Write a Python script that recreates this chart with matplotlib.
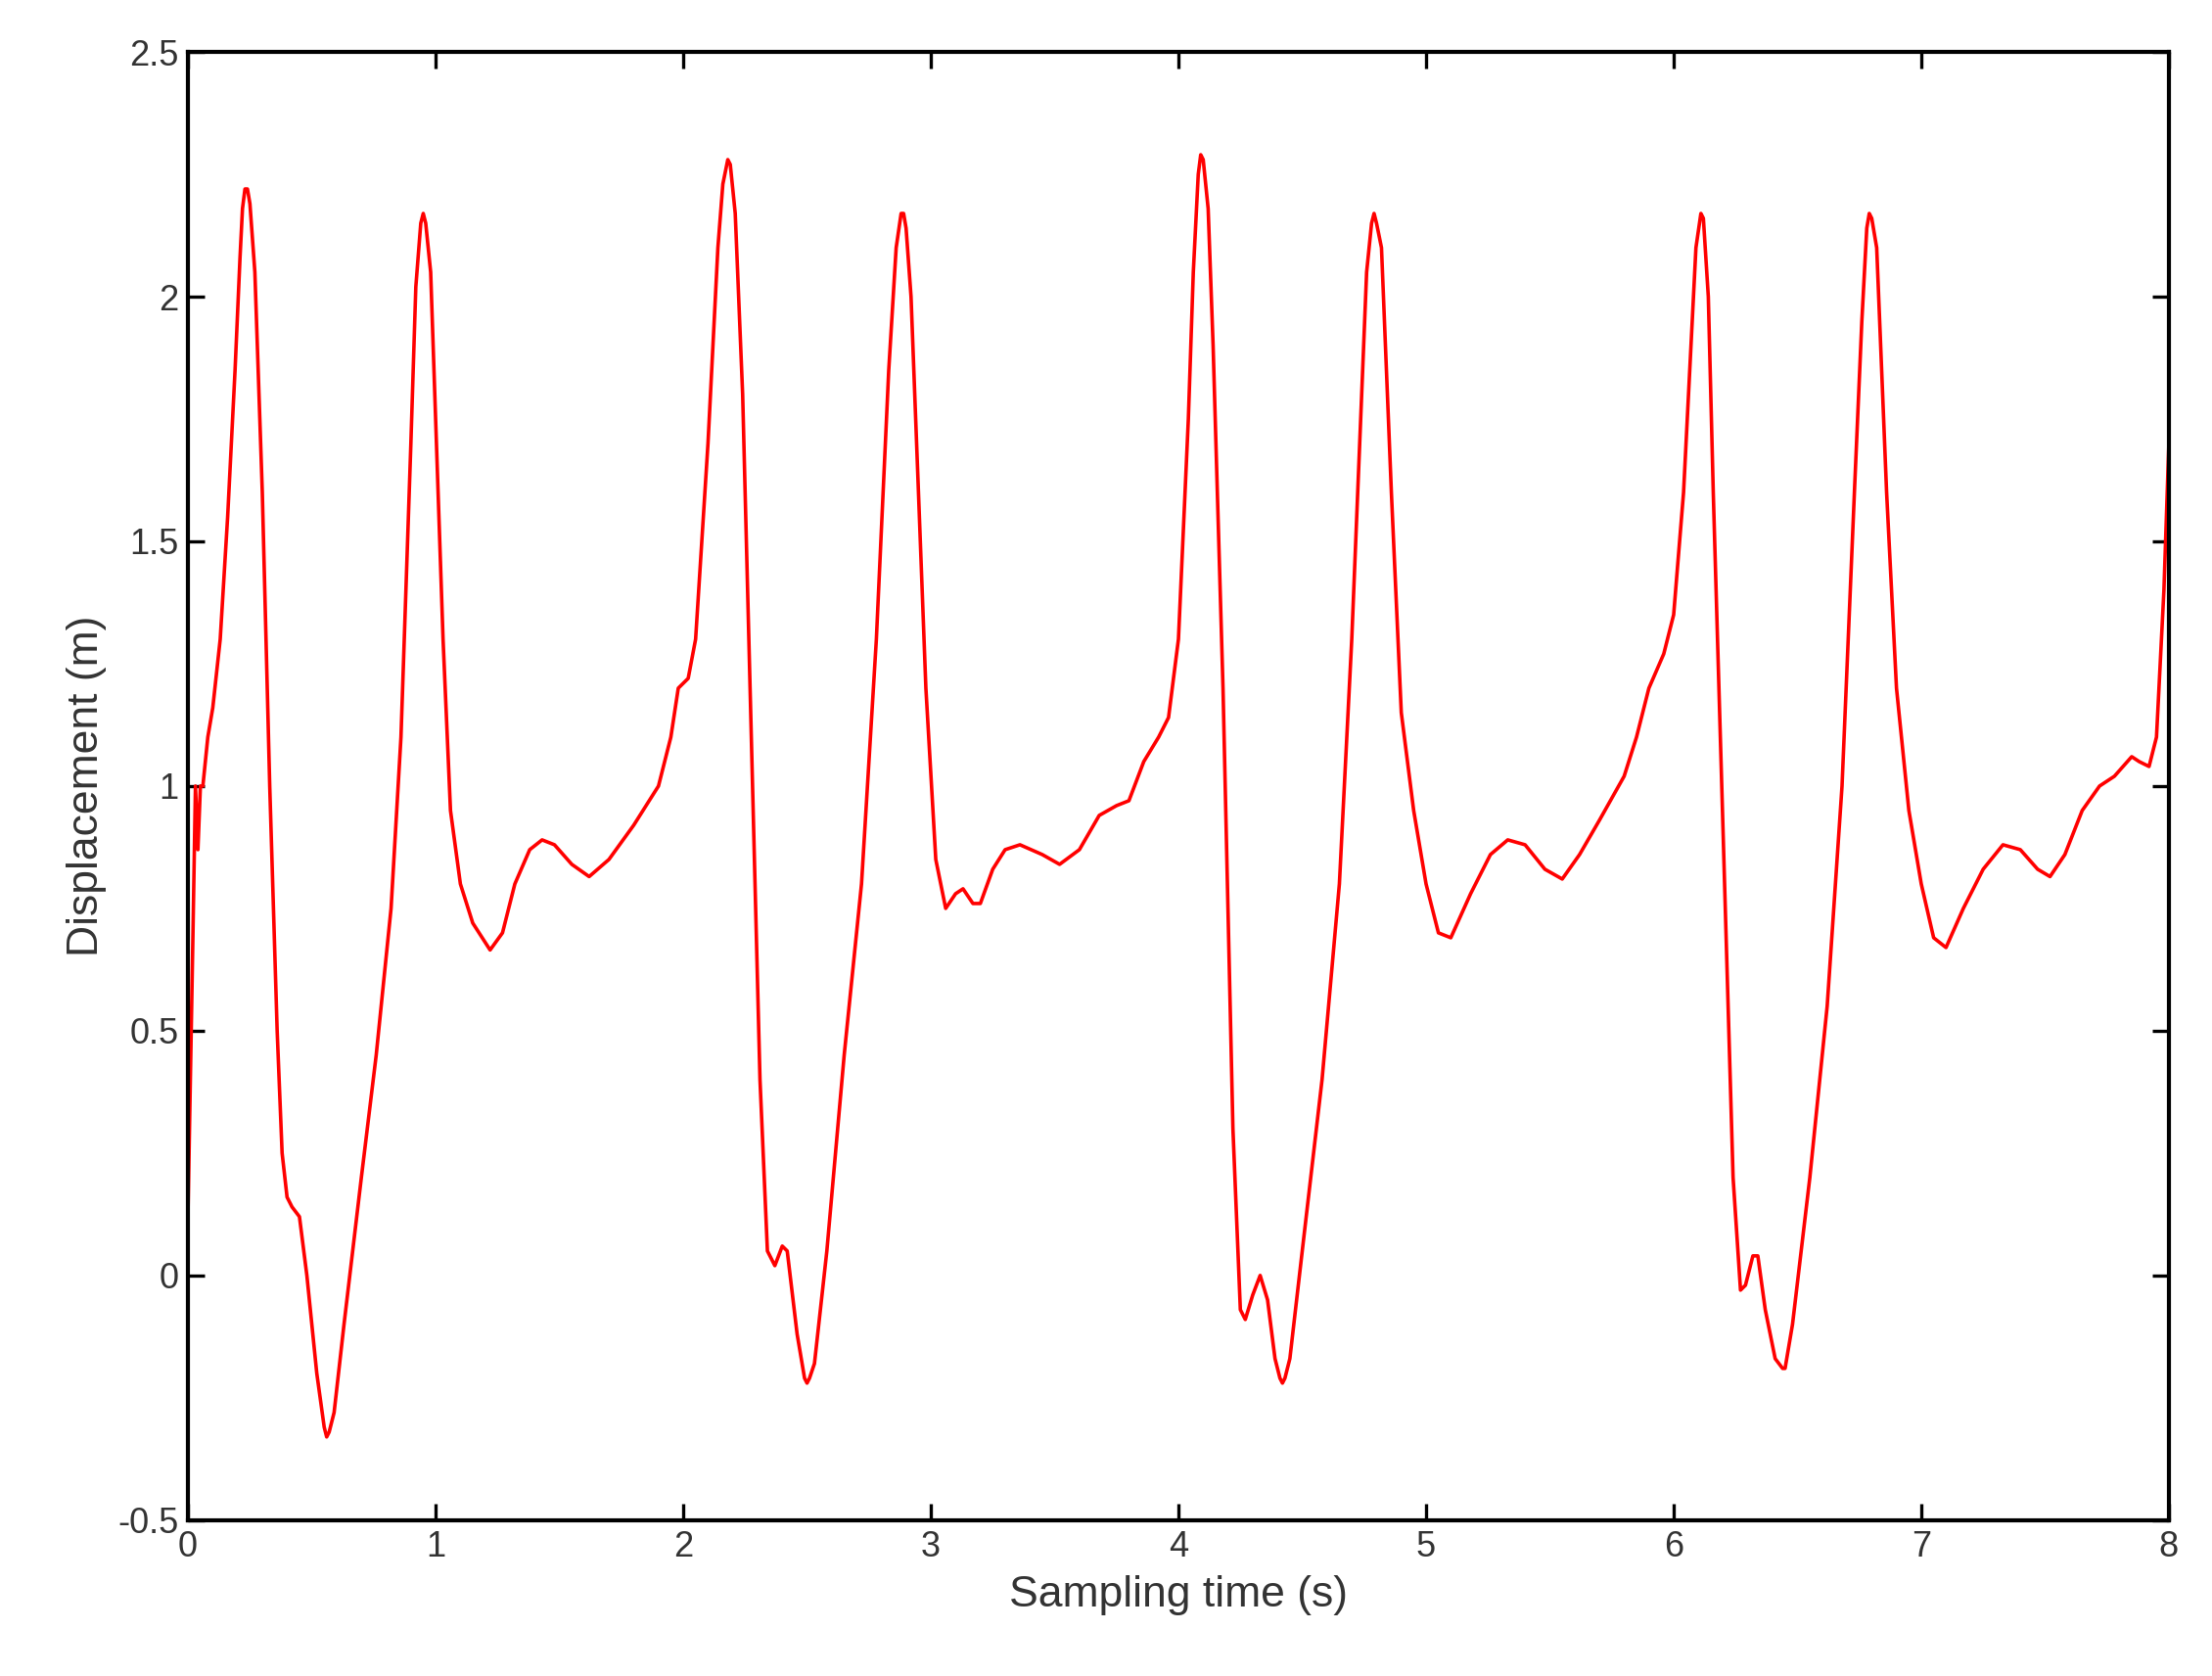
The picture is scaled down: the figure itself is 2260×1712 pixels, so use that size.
import matplotlib
matplotlib.use("Agg")
import matplotlib.pyplot as plt
from matplotlib.ticker import FuncFormatter

plt.rcParams['font.family'] = ['Liberation Sans', 'DejaVu Sans']

t = [0, 0.02, 0.03, 0.04, 0.05, 0.06, 0.08, 0.1, 0.13, 0.16, 0.19, 0.21, 0.22, 0.23, 0.24, 0.25, 0.27, 0.3, 0.33, 0.36, 0.38, 0.40, 0.42, 0.45, 0.48, 0.52, 0.55, 0.56, 0.57, 0.59, 0.63, 0.7, 0.76, 0.82, 0.86, 0.9, 0.92, 0.94, 0.95, 0.96, 0.98, 1.0, 1.03, 1.06, 1.1, 1.15, 1.22, 1.27, 1.32, 1.38, 1.43, 1.48, 1.55, 1.62, 1.7, 1.8, 1.9, 1.95, 1.98, 2.02, 2.05, 2.1, 2.14, 2.16, 2.18, 2.19, 2.21, 2.24, 2.28, 2.31, 2.34, 2.37, 2.40, 2.42, 2.46, 2.49, 2.50, 2.51, 2.53, 2.58, 2.65, 2.72, 2.78, 2.83, 2.86, 2.88, 2.89, 2.90, 2.92, 2.95, 2.98, 3.02, 3.06, 3.1, 3.13, 3.17, 3.2, 3.25, 3.3, 3.36, 3.45, 3.52, 3.6, 3.68, 3.75, 3.8, 3.86, 3.92, 3.96, 4.0, 4.04, 4.06, 4.08, 4.09, 4.10, 4.12, 4.14, 4.18, 4.22, 4.25, 4.27, 4.30, 4.33, 4.36, 4.39, 4.41, 4.42, 4.43, 4.45, 4.5, 4.58, 4.65, 4.7, 4.74, 4.76, 4.78, 4.79, 4.80, 4.82, 4.86, 4.9, 4.95, 5.0, 5.05, 5.1, 5.18, 5.26, 5.33, 5.4, 5.48, 5.55, 5.62, 5.7, 5.8, 5.85, 5.9, 5.96, 6.0, 6.04, 6.07, 6.09, 6.11, 6.12, 6.14, 6.16, 6.2, 6.24, 6.27, 6.29, 6.32, 6.34, 6.37, 6.41, 6.44, 6.45, 6.48, 6.55, 6.62, 6.68, 6.73, 6.76, 6.78, 6.79, 6.80, 6.82, 6.86, 6.9, 6.95, 7.0, 7.05, 7.1, 7.17, 7.25, 7.33, 7.4, 7.47, 7.52, 7.58, 7.65, 7.72, 7.78, 7.85, 7.88, 7.92, 7.95, 7.98, 8.0]
displacement = [0.13, 0.7, 1.0, 0.87, 1.0, 1.0, 1.1, 1.16, 1.3, 1.55, 1.85, 2.08, 2.18, 2.22, 2.22, 2.19, 2.05, 1.6, 1.0, 0.5, 0.25, 0.16, 0.14, 0.12, 0.0, -0.2, -0.31, -0.33, -0.32, -0.28, -0.1, 0.2, 0.45, 0.75, 1.1, 1.7, 2.02, 2.15, 2.17, 2.15, 2.05, 1.75, 1.3, 0.95, 0.8, 0.72, 0.665, 0.7, 0.8, 0.87, 0.89, 0.88, 0.84, 0.815, 0.85, 0.92, 1.0, 1.1, 1.2, 1.22, 1.3, 1.7, 2.1, 2.23, 2.28, 2.27, 2.17, 1.8, 1.0, 0.4, 0.05, 0.02, 0.06, 0.05, -0.12, -0.21, -0.22, -0.21, -0.18, 0.05, 0.45, 0.8, 1.3, 1.85, 2.1, 2.17, 2.17, 2.14, 2.0, 1.6, 1.2, 0.85, 0.75, 0.78, 0.79, 0.76, 0.76, 0.83, 0.87, 0.88, 0.86, 0.84, 0.87, 0.94, 0.96, 0.97, 1.05, 1.1, 1.14, 1.3, 1.75, 2.05, 2.25, 2.29, 2.28, 2.18, 1.9, 1.2, 0.3, -0.07, -0.09, -0.04, 0.0, -0.05, -0.17, -0.21, -0.22, -0.21, -0.17, 0.05, 0.4, 0.8, 1.3, 1.8, 2.05, 2.15, 2.17, 2.15, 2.1, 1.6, 1.15, 0.95, 0.8, 0.7, 0.69, 0.78, 0.86, 0.89, 0.88, 0.83, 0.81, 0.86, 0.93, 1.02, 1.1, 1.2, 1.27, 1.35, 1.6, 1.9, 2.1, 2.17, 2.16, 2.0, 1.6, 0.9, 0.2, -0.03, -0.02, 0.04, 0.04, -0.07, -0.17, -0.19, -0.19, -0.1, 0.2, 0.55, 1.0, 1.6, 1.95, 2.14, 2.17, 2.16, 2.1, 1.6, 1.2, 0.95, 0.8, 0.69, 0.67, 0.75, 0.83, 0.88, 0.87, 0.83, 0.815, 0.86, 0.95, 1.0, 1.02, 1.06, 1.05, 1.04, 1.1, 1.4, 1.7]

fig = plt.figure(figsize=(11.3, 8.56), dpi=200)
ax = fig.add_axes([0.085, 0.093, 0.8995 - 0.004, 0.876])
ax.plot(t, displacement, color='red', lw=1.3)
ax.set_xlim(0, 8)
ax.set_ylim(-0.5, 2.5)
ax.set_xticks(range(0, 9))
ax.set_yticks([-0.5, 0, 0.5, 1, 1.5, 2, 2.5])
ax.yaxis.set_major_formatter(FuncFormatter(lambda v, p: f"{v:g}"))
ax.tick_params(direction='in', top=True, right=True, length=6, width=1.2,
               labelsize=13, labelcolor='#333333')
for s in ax.spines.values():
    s.set_linewidth(1.5)
ax.set_xlabel('Sampling time (s)', fontsize=16, color='#333333')
ax.set_ylabel('Displacement (m)', fontsize=16, color='#333333')
fig.savefig('out.png')
